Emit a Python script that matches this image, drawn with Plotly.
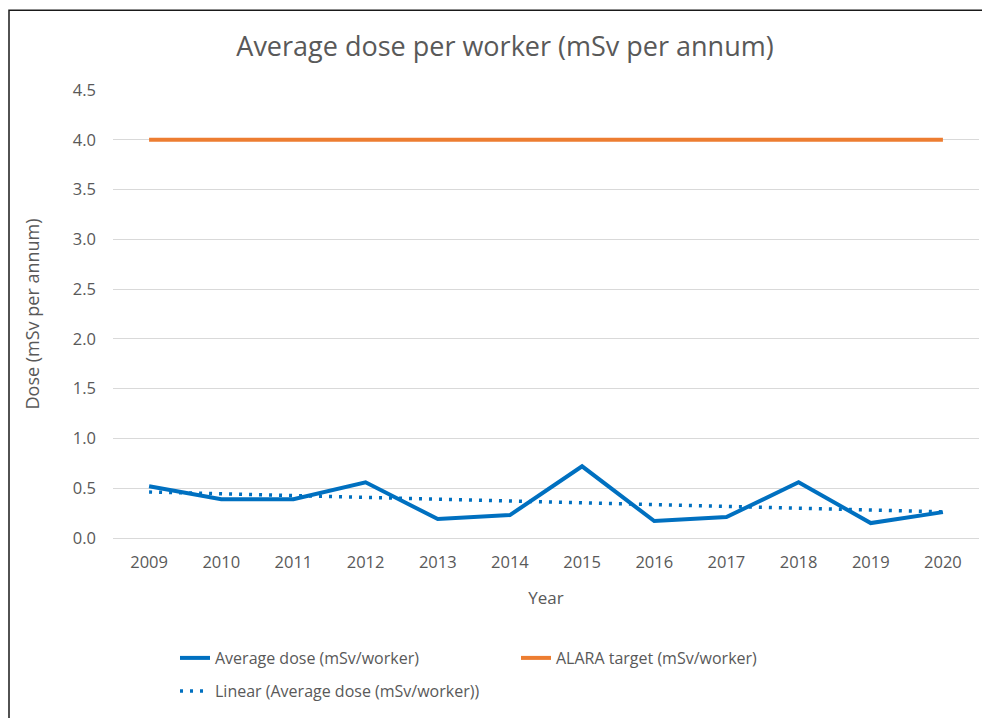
import numpy as np
import plotly.graph_objects as go

years = ["2009", "2010", "2011", "2012", "2013", "2014", "2015", "2016", "2017", "2018", "2019", "2020"]
avg_dose = [0.52, 0.39, 0.39, 0.56, 0.19, 0.23, 0.72, 0.17, 0.21, 0.56, 0.15, 0.26]
alara_target = [4.0] * len(years)
y_ticks = [0.0, 0.5, 1.0, 1.5, 2.0, 2.5, 3.0, 3.5, 4.0, 4.5]

# Linear trendline (least squares on the average dose series, like Excel's "Linear" trendline)
idx = np.arange(len(avg_dose))
slope, intercept = np.polyfit(idx, np.array(avg_dose), 1)
trend = list(intercept + slope * idx)

BLUE = "#0070C0"
ORANGE = "#ED7D31"
GREY_TXT = "#595959"
GRID = "#D9D9D9"
FONT = "Open Sans"

fig = go.Figure()
fig.add_trace(go.Scatter(x=years, y=avg_dose, mode="lines", name="Average dose (mSv/worker)",
                         line=dict(color=BLUE, width=4), legend="legend"))
fig.add_trace(go.Scatter(x=years, y=alara_target, mode="lines", name="ALARA target (mSv/worker)",
                         line=dict(color=ORANGE, width=4), legend="legend"))
fig.add_trace(go.Scatter(x=years, y=trend, mode="lines", name="Linear (Average dose (mSv/worker))",
                         line=dict(color=BLUE, width=3.5, dash="3px,7px"), legend="legend2"))

OFF = 8  # page body margin
W, H = 990 - OFF, 718 - OFF
L, R, T, B = 113 - OFF, 11, 90 - OFF, 179
pw, ph = W - L - R, H - T - B

def px_x(x):
    return (x - OFF - L) / pw

def px_y(y):
    return (H - B - (y - OFF)) / ph

fig.update_layout(
    width=W, height=H,
    margin=dict(l=L, r=R, t=T, b=B),
    paper_bgcolor="white", plot_bgcolor="white",
    font=dict(family=FONT, color=GREY_TXT, size=16),
    title=dict(text="Average dose per worker (mSv per annum)", x=(505 - OFF) / W, xref="container",
               xanchor="center", y=1 - (47 - OFF) / H, yref="container", yanchor="middle",
               font=dict(size=27, color=GREY_TXT, family=FONT)),
    xaxis=dict(type="category", range=[-0.5, len(years) - 0.5], showgrid=False,
               showline=True, linecolor=GRID, linewidth=1, ticks="",
               tickfont=dict(size=16.5, color=GREY_TXT), ticklabelstandoff=9,
               title=dict(text="Year", font=dict(size=17, color=GREY_TXT), standoff=20),
               zeroline=False, fixedrange=True),
    yaxis=dict(range=[0, 4.5], tickvals=y_ticks, tickformat=".1f", showgrid=True,
               gridcolor=GRID, gridwidth=1, showline=False, zeroline=False, ticks="",
               tickfont=dict(size=16.5, color=GREY_TXT), ticklabelstandoff=16,
               title=dict(text="Dose (mSv per annum)", font=dict(size=18, color=GREY_TXT), standoff=28),
               fixedrange=True),
    legend=dict(orientation="h", x=px_x(175), xanchor="left", y=px_y(658), yanchor="middle",
                entrywidth=296, entrywidthmode="pixels", font=dict(size=16, color=GREY_TXT),
                bgcolor="rgba(0,0,0,0)", tracegroupgap=0),
    legend2=dict(orientation="h", x=px_x(175), xanchor="left", y=px_y(691), yanchor="middle",
                 font=dict(size=16, color=GREY_TXT), bgcolor="rgba(0,0,0,0)"),
    showlegend=True,
    shapes=[dict(type="rect", xref="paper", yref="paper",
                 x0=px_x(9), x1=px_x(1010), y0=px_y(740), y1=px_y(10),
                 line=dict(color="#1a1a1a", width=1.5), fillcolor="rgba(0,0,0,0)", layer="above")],
)

fig.write_html("out.html")
